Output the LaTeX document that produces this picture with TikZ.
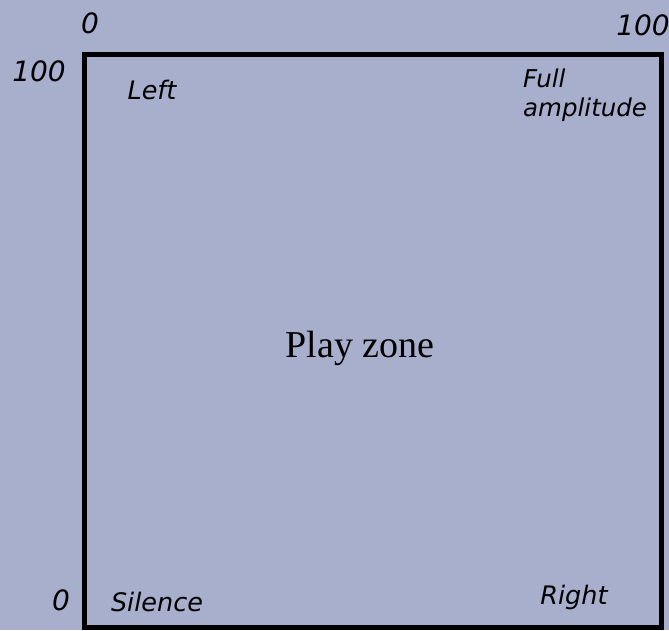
\documentclass[tikz,border=0pt]{standalone}
\usepackage{fontspec}
\newfontfamily\labelfont{DejaVu Sans}
\newfontfamily\zonefont{Liberation Serif}
\usepackage{tikz}
\definecolor{panelbg}{RGB}{167,175,204}

\begin{document}
\begin{tikzpicture}[x=1pt, y=-1pt,
    lbl/.style={font=\labelfont\itshape\fontsize{25.5}{29}\selectfont, inner sep=0pt, anchor=base},
    num/.style={font=\labelfont\itshape\fontsize{28}{28}\selectfont, inner sep=0pt, anchor=base}]
  % Background
  \fill[panelbg] (0,0) rectangle (669,630);
  \useasboundingbox (0,0) rectangle (669,630);
  % Play area frame
  \draw[line width=5pt] (84.5,54.5) rectangle (661.5,627.5);
  % Scale numbers
  \node[num] (xmin) at (90,33) {0};
  \node[num] (xmax) at (643,35) {100};
  \node[num] (ymax) at (39,81) {100};
  \node[num] (ymin) at (61,610) {0};
  % Corner labels
  \node[lbl, anchor=north west, align=left, font=\labelfont\itshape\fontsize{24.5}{29}\selectfont] (full) at (523,69) {Full\\amplitude};
  \node[lbl] (left) at (152,99) {Left};
  \node[lbl] (silence) at (157,611) {Silence};
  \node[lbl] (right) at (574,604) {Right};
  % Centre
  \node[font=\zonefont\fontsize{38}{38}\selectfont, inner sep=0pt, anchor=base] (zone) at (360,357) {Play zone};
\end{tikzpicture}
\end{document}
